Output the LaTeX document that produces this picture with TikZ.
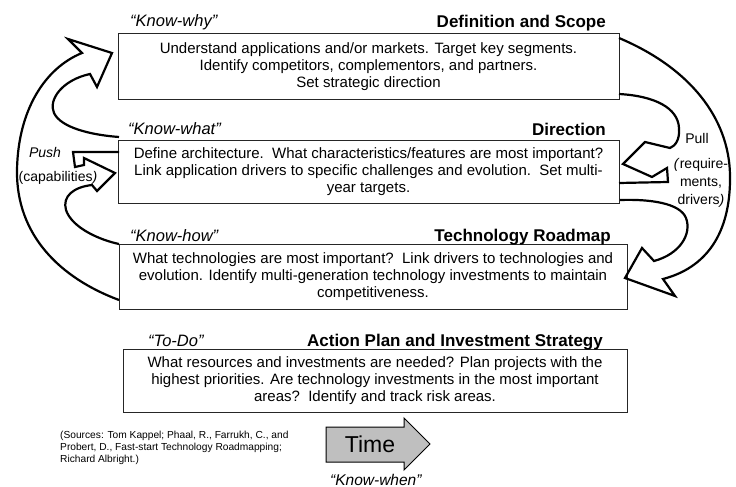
\documentclass[tikz,border=0pt]{standalone}
\usepackage{fontspec}
\setmainfont{Liberation Sans}
\begin{document}
\begin{tikzpicture}[x=1pt,y=-1pt,
  box/.style={draw=black!85, line width=1pt, inner sep=0pt, align=center, font=\fontsize{15}{17}\selectfont},
  head/.style={inner sep=0pt, font=\fontsize{17}{20}\selectfont\bfseries, anchor=base east},
  know/.style={inner sep=0pt, font=\fontsize{16.5}{20}\selectfont\itshape, anchor=base west},
  side/.style={inner sep=0pt, align=center, font=\fontsize{14}{18}\selectfont},
  flow/.style={line width=2.2pt, line join=miter}
]
\useasboundingbox (0,0) rectangle (736,487);

% boxes
\node[box, minimum width=501pt, minimum height=65pt] (b1) at (368.5,66.5)
  {Understand applications and/or markets. Target key segments.\\
   Identify competitors, complementors, and partners.\\
   Set strategic direction};
\node[box, minimum width=501pt, minimum height=63pt] (b2) at (368.5,171.5)
  {Define architecture.\ \ What characteristics/features are most important?\\
   Link application drivers to specific challenges and evolution.\ \ Set multi-\\
   year targets.};
\node[box, minimum width=508pt, minimum height=65pt] (b3) at (373,276.5)
  {What technologies are most important?\ \ Link drivers to technologies and\\
   evolution. Identify multi-generation technology investments to maintain\\
   competitiveness.};
\node[box, minimum width=504pt, minimum height=63pt] (b4) at (375,380.5)
  {What resources and investments are needed? Plan projects with the\\
   highest priorities. Are technology investments in the most important\\
   areas?\ \ Identify and track risk areas.};

% headings
\node[head] (h1) at (606,28) {Definition and Scope};
\node[head] (h2) at (606,135) {Direction};
\node[head] (h3) at (611,241) {Technology Roadmap};
\node[head] (h4) at (603,346) {Action Plan and Investment Strategy};

\node[know] (k1) at (130,27) {“Know-why”};
\node[know] (k2) at (128,134) {“Know-what”};
\node[know] (k3) at (130,241) {“Know-how”};
\node[know] (k4) at (148,346) {“To-Do”};

% side labels
\node[side, font=\fontsize{14}{18}\selectfont\itshape] (push) at (45,152) {Push};
\node[side] (cap) at (58,178) {(capabilities\textit{)}};
\node[side] (pull) at (697,138) {Pull};
\node[side] (req) at (701,183) {\textit{(}require-\\ments,\\drivers\textit{)}};

% attachment points
\coordinate (a1s) at (119,300);
\coordinate (a1e) at (119,137);
\coordinate (a2s) at (119,152);
\coordinate (a2e) at (119,244);
\coordinate (a3s) at (619,38);
\coordinate (a3e) at (620,200);
\coordinate (a4s) at (619,94);
\coordinate (a4e) at (619,183);

% left big arrow (push to Know-why)
\draw[flow] (a1s) .. controls (60,278) and (16,235) .. (17,170)
  .. controls (18,110) and (45,68) .. (82,53) -- (68,39) -- (112,53) -- (97,87) -- (90,74)
  .. controls (62,80) and (48,100) .. (54,113) .. controls (61,128) and (92,135) .. (a1e);
% left small arrow (push to Know-what)
\draw[flow] (a2s) -- (73,152) -- (75,167) -- (84,165) -- (84,158) -- (115,173) -- (97,191) -- (92,185)
  .. controls (74,187) and (62,196) .. (66,210) .. controls (72,228) and (100,240) .. (a2e);
% right big arrow (pull to Know-how)
\draw[flow] (a3s) .. controls (690,68) and (729,118) .. (730,175)
  .. controls (731,235) and (705,268) .. (663,279) -- (675,296) -- (625,278) -- (642,248) -- (654,261)
  .. controls (680,254) and (692,234) .. (686,218) .. controls (680,203) and (650,199) .. (a3e);
% right small arrow (pull to Know-what)
\draw[flow] (a4s) .. controls (655,96) and (678,108) .. (679,128)
  .. controls (680,140) and (675,146) .. (670,148) -- (645,142) -- (623,164) -- (652,177) -- (667,168) -- (668,182) -- (a4e);

% time arrow
\draw[fill=black!25, line width=1pt] (326,427) -- (404,427) -- (404,418) -- (430,444) -- (404,470) -- (404,462) -- (326,462) -- cycle;
\node[inner sep=0pt, font=\fontsize{23}{25}\selectfont] (time) at (370,444) {Time};
\node[know, font=\fontsize{15.5}{18}\selectfont\itshape] (kw) at (330,485) {“Know-when”};

% sources
\node[inner sep=0pt, anchor=north west, align=left, font=\fontsize{10.2}{12}\selectfont] (src) at (60,431)
  {(Sources: Tom Kappel; Phaal, R., Farrukh, C., and\\
   Probert, D., Fast-start Technology Roadmapping;\\
   Richard Albright.)};
\end{tikzpicture}
\end{document}
